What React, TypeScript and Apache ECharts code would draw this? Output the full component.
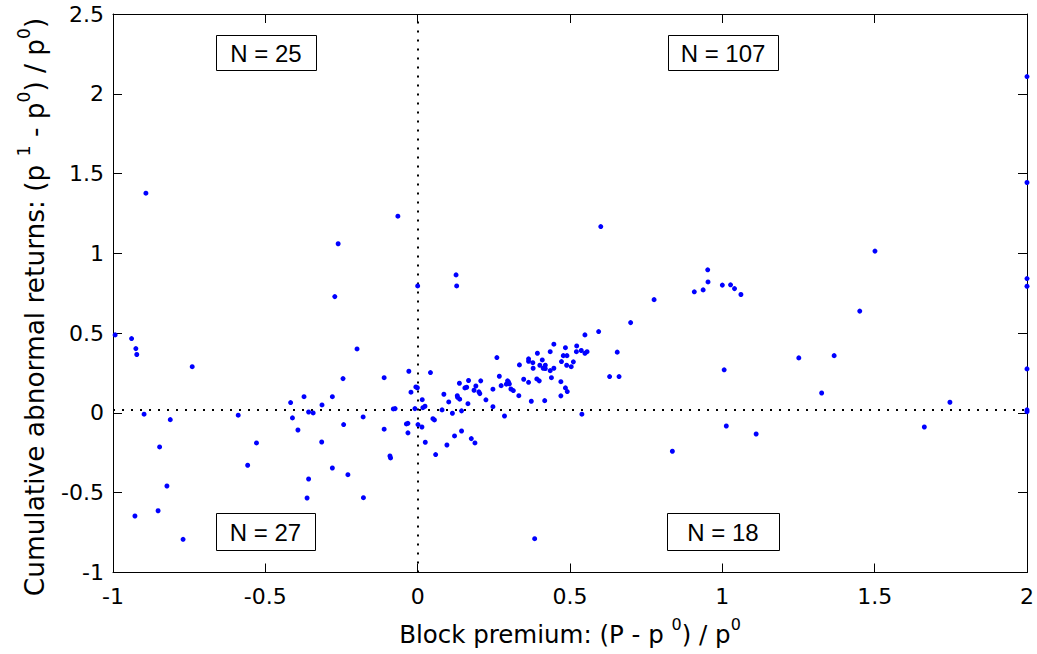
import React, { useEffect, useRef } from "react";
import * as echarts from "echarts";

// Block premium (P - p0) / p0
const blockPremium: number[] = [
  // upper-left quadrant
  -0.892, -0.065, -0.261, -0.272, 0.0, -0.993, -0.939, -0.925, -0.922, -0.74,
  -0.199, -0.245, -0.11, -0.029, -0.022, -0.006, -0.001, -0.417, -0.373, -0.314,
  -0.28, -0.08, -0.074, -0.009,
  // lower-left quadrant
  -0.898, -0.812, -0.847, -0.823, -0.928, -0.852, -0.77, -0.589, -0.529, -0.558,
  -0.411, -0.393, -0.358, -0.343, -0.315, -0.28, -0.358, -0.363, -0.243, -0.229,
  -0.179, -0.178, -0.11, -0.091, -0.089, -0.037, -0.032, -0.032,
  // lower-right quadrant
  0.001, 0.014, 0.025, 0.05, 0.055, 0.059, 0.08, 0.096, 0.114, 0.121,
  0.144, 0.144, 0.176, 0.188, 0.285, 0.539, 0.836, 1.013, 1.111, 1.663,
  2.0, 2.0, 0.384,
  // upper-right quadrant
  0.015, 0.017, 0.024, 0.042, 0.086, 0.102, 0.13, 0.131, 0.137, 0.138,
  0.155, 0.161, 0.167, 0.165, 0.185, 0.191, 0.201, 0.204, 0.207, 0.224,
  0.247, 0.247, 0.26, 0.268, 0.274, 0.291, 0.295, 0.298, 0.301, 0.306,
  0.314, 0.332, 0.334, 0.348, 0.364, 0.364, 0.364, 0.373, 0.378, 0.379,
  0.393, 0.391, 0.399, 0.401, 0.409, 0.412, 0.419, 0.419, 0.417, 0.435,
  0.435, 0.447, 0.447, 0.439, 0.47, 0.47, 0.472, 0.478, 0.49, 0.485,
  0.485, 0.491, 0.489, 0.504, 0.511, 0.522, 0.521, 0.537, 0.549, 0.556,
  0.549, 0.594, 0.63, 0.655, 0.661, 0.601, 0.952, 0.953, 0.908, 0.937,
  1.0, 1.027, 1.04, 1.061, 0.776, 0.699, 1.501, 1.451, 1.006, 1.251,
  1.367, 1.326, 2.0, 2.0, 2.0, 2.0, 2.0, 1.747, 0.126, 0.128,
];

// Cumulative abnormal returns (p1 - p0) / p0
const abnormalReturns: number[] = [
  // upper-left quadrant
  1.377, 1.233, 1.06, 0.729, 0.796, 0.489, 0.466, 0.403, 0.366, 0.29,
  0.401, 0.215, 0.221, 0.261, 0.13, 0.163, 0.158, 0.065, 0.102, 0.05,
  0.102, 0.025, 0.027, 0.027,
  // lower-left quadrant
  -0.008, -0.042, -0.213, -0.458, -0.646, -0.613, -0.792, -0.014, -0.188, -0.328,
  -0.031, -0.107, 0.006, 0.0, -0.182, -0.345, -0.414, -0.533, -0.073, -0.387,
  -0.025, -0.531, -0.102, -0.27, -0.282, -0.069, -0.065, -0.125,
  // lower-right quadrant
  -0.073, -0.088, -0.184, -0.036, -0.044, -0.261, 0.019, -0.201, -0.002, -0.144,
  0.013, -0.113, -0.161, -0.188, -0.019, -0.008, -0.24, -0.082, -0.132, -0.088,
  0.019, 0.008, -0.788,
  // upper-right quadrant
  0.083, 0.033, 0.042, 0.253, 0.117, 0.069, 0.108, 0.098, 0.186, 0.086,
  0.157, 0.161, 0.203, 0.058, 0.142, 0.169, 0.132, 0.121, 0.201, 0.082,
  0.149, 0.039, 0.347, 0.23, 0.171, 0.18, 0.201, 0.194, 0.182, 0.15,
  0.14, 0.108, 0.301, 0.211, 0.339, 0.324, 0.192, 0.073, 0.315, 0.28,
  0.374, 0.213, 0.201, 0.299, 0.332, 0.28, 0.299, 0.278, 0.077, 0.384,
  0.265, 0.431, 0.28, 0.221, 0.196, 0.107, 0.322, 0.359, 0.359, 0.409,
  0.157, 0.134, 0.299, 0.29, 0.32, 0.42, 0.384, 0.391, 0.374, 0.384,
  0.489, 0.51, 0.228, 0.381, 0.228, 1.168, 0.897, 0.821, 0.759, 0.771,
  0.801, 0.803, 0.779, 0.742, 0.71, 0.566, 1.014, 0.638, 0.27, 0.345,
  0.359, 0.125, 2.108, 1.444, 0.842, 0.794, 0.276, 0.067, 0.865, 0.796,
];

// Dotted reference lines
const verticalRef = 0;
const horizontalRef = 0.02;

// Quadrant count labels: upper-left, upper-right, lower-left, lower-right
const quadrantLabels: string[] = ["N = 25", "N = 107", "N = 27", "N = 18"];

// Axis titles (rich text, superscripts in {s|...})
const xTitle = "{n|Block premium: (P - p }{s|0}{n|) / p}{s|0}";
const yTitle = "{n|Cumulative abnormal returns: (p }{s|1}{n| - p}{s|0}{n|) / p}{s|0}{n|)}";

const FONT = "DejaVu Sans";
const BOX_FONT = "Liberation Sans";

export default function App() {
  const ref = useRef<HTMLDivElement>(null);

  useEffect(() => {
    if (!ref.current) return;
    const chart = echarts.init(ref.current, undefined, { renderer: "svg" });

    const points = blockPremium.map((x, i) => [x, abnormalReturns[i]]);

    const boxes = [
      { x: 216, y: 35, w: 100, h: 35, text: quadrantLabels[0] },
      { x: 668, y: 35, w: 110, h: 35, text: quadrantLabels[1] },
      { x: 216, y: 513, w: 99, h: 37, text: quadrantLabels[2] },
      { x: 667, y: 513, w: 112, h: 37, text: quadrantLabels[3] },
    ];

    const xRich = {
      n: { fontFamily: FONT, fontSize: 24.5, color: "#000", verticalAlign: "bottom", lineHeight: 30 },
      s: { fontFamily: FONT, fontSize: 16, color: "#000", verticalAlign: "top", lineHeight: 16 },
    };
    const yRich = {
      n: { fontFamily: FONT, fontSize: 26.4, color: "#000", verticalAlign: "bottom", lineHeight: 32 },
      s: { fontFamily: FONT, fontSize: 17, color: "#000", verticalAlign: "top", lineHeight: 17 },
    };

    const graphic: any[] = [
      {
        type: "text",
        x: 31,
        y: 307,
        rotation: Math.PI / 2,
        style: {
          text: yTitle,
          rich: yRich,
          align: "center",
          verticalAlign: "middle",
          fill: "#000",
        },
      },
    ];
    boxes.forEach((b) => {
      graphic.push({
        type: "rect",
        shape: { x: b.x + 0.5, y: b.y + 0.5, width: b.w, height: b.h },
        style: { fill: "#fff", stroke: "#000", lineWidth: 1 },
        z: 100,
      });
      graphic.push({
        type: "text",
        x: b.x + b.w / 2,
        y: b.y + b.h / 2 + 1,
        style: {
          text: b.text,
          fontFamily: BOX_FONT,
          fontSize: 24,
          fill: "#000",
          align: "center",
          verticalAlign: "middle",
        },
        z: 101,
      });
    });

    const axisCommon = {
      type: "value",
      interval: 0.5,
      splitLine: { show: false },
      axisLine: { show: true, onZero: false, lineStyle: { color: "#000", width: 1 } },
      axisTick: { show: true, inside: true, length: 9, lineStyle: { color: "#000", width: 1 } },
    };

    const option: any = {
      animation: false,
      backgroundColor: "#fff",
      grid: { left: 113, right: 9, top: 14, bottom: 81.5, containLabel: false },
      xAxis: [
        {
          ...axisCommon,
          min: -1,
          max: 2,
          position: "bottom",
          axisLabel: { color: "#000", fontFamily: FONT, fontSize: 22, margin: 13 },
          name: xTitle,
          nameLocation: "middle",
          nameGap: 44,
          nameTextStyle: { rich: xRich },
        },
        {
          ...axisCommon,
          min: -1,
          max: 2,
          position: "top",
          axisLabel: { show: false },
        },
      ],
      yAxis: [
        {
          ...axisCommon,
          min: -1,
          max: 2.5,
          position: "left",
          axisLabel: { color: "#000", fontFamily: FONT, fontSize: 22, margin: 9 },
        },
        {
          ...axisCommon,
          min: -1,
          max: 2.5,
          position: "right",
          axisLabel: { show: false },
        },
      ],
      series: [
        {
          type: "scatter",
          data: points,
          symbol: "circle",
          symbolSize: 5,
          itemStyle: { color: "#0000ff", opacity: 1 },
          clip: false,
          silent: true,
          markLine: {
            silent: true,
            symbol: ["none", "none"],
            label: { show: false },
            lineStyle: { color: "#000", type: [2, 7], width: 2, cap: "butt" },
            data: [{ xAxis: verticalRef }, { yAxis: horizontalRef }],
            z: 1,
          },
        },
      ],
      graphic,
    };

    chart.setOption(option);
    return () => chart.dispose();
  }, []);

  return (
    <div
      ref={ref}
      style={{ position: "fixed", left: 0, top: 0, width: 1037, height: 654, background: "#fff" }}
    />
  );
}
